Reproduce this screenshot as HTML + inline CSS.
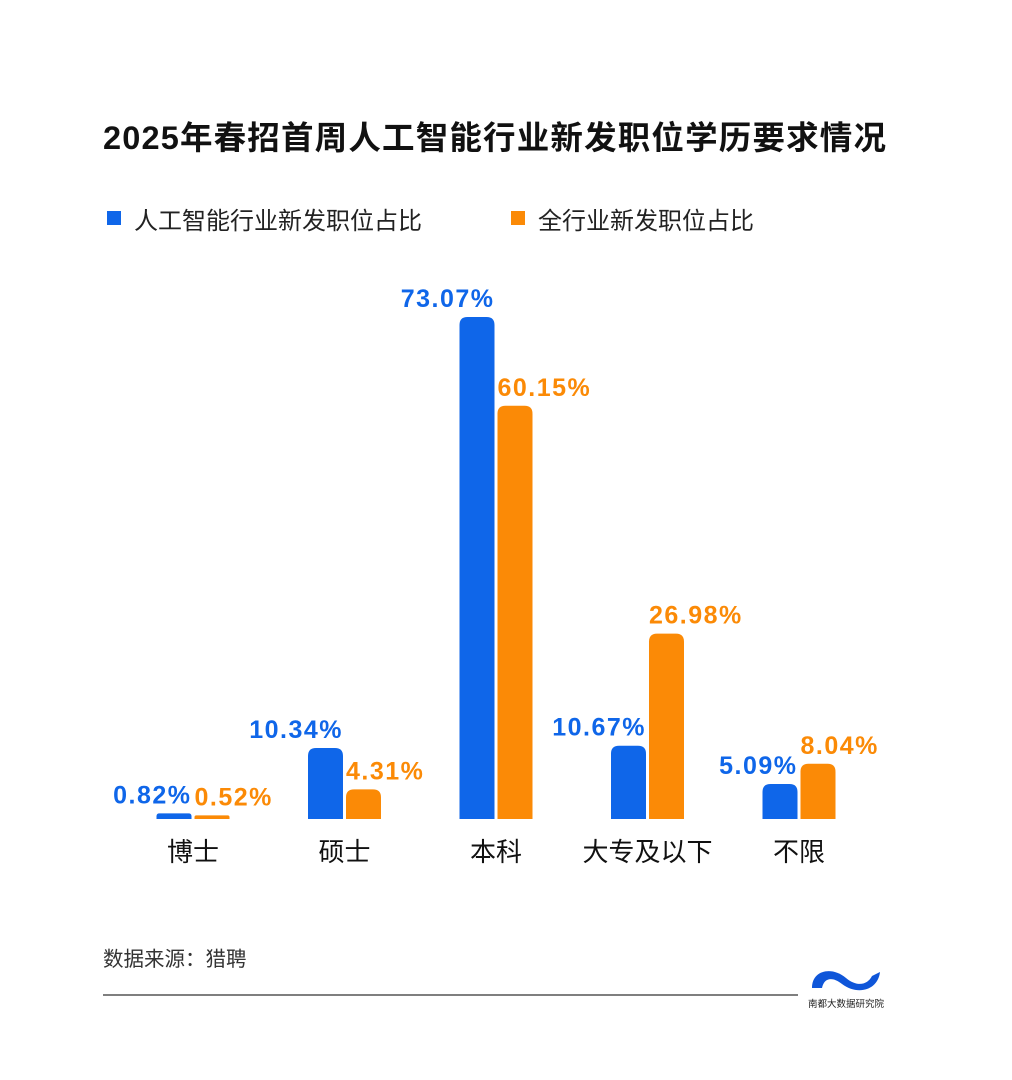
<!DOCTYPE html>
<html><head><meta charset="utf-8"><style>
body{margin:0;background:#fff;}
svg{display:block;font-family:"Liberation Sans","Noto Sans CJK SC",sans-serif;}
</style></head><body>
<svg id="chart" width="1012" height="1080">
<text x="103" y="149" font-size="32.5" font-weight="bold" fill="#111" textLength="783" lengthAdjust="spacing">2025年春招首周人工智能行业新发职位学历要求情况</text>
<g>
<rect x="107" y="211" width="14" height="14" fill="#0F66E9"/>
<text x="134" y="229" font-size="24" fill="#222">人工智能行业新发职位占比</text>
<rect x="511" y="211" width="14" height="14" fill="#FB8A06"/>
<text x="538" y="229" font-size="24" fill="#222">全行业新发职位占比</text>
</g>
<g id="bars"></g>
<text x="103" y="966" font-size="20.5" fill="#333">数据来源：猎聘</text>
<line x1="103" y1="995" x2="798" y2="995" stroke="#333" stroke-width="1.2"/>
<g>
<path d="M812 988 C812 970 832 966 846 978 C858 988 868 984 872 976 L880 972 C878 990 858 996 842 984 C832 976 824 978 822 988 Z" fill="#0F56D9"/>
<text x="846" y="1007" font-size="9.5" text-anchor="middle" fill="#222">南都大数据研究院</text>
</g>
</svg>
<script>
const categories=["博士","硕士","本科","大专及以下","不限"];
const aiValues=[0.82,10.34,73.07,10.67,5.09];
const allValues=[0.52,4.31,60.15,26.98,8.04];
const baseY=819, scale=6.87, x0=193, step=151.5, bw=35, gap=3;
const yOf=v=>baseY-v*scale;
const ns="http://www.w3.org/2000/svg";
const g=document.getElementById("bars");
function bar(x,v,color,name,isAi){
  const h=baseY-yOf(v), r=Math.min(8,h/2,bw/2);
  const p=document.createElementNS(ns,"path");
  const y=yOf(v);
  p.setAttribute("d",`M${x} ${baseY} V${y+r} Q${x} ${y} ${x+r} ${y} H${x+bw-r} Q${x+bw} ${y} ${x+bw} ${y+r} V${baseY} Z`);
  p.setAttribute("fill",color);
  
  
  g.appendChild(p);
  const t=document.createElementNS(ns,"text");
  t.setAttribute("x",isAi?x+bw:x);t.setAttribute("y",y-10);
  t.setAttribute("text-anchor",isAi?"end":"start");t.setAttribute("font-size","25");
  t.setAttribute("letter-spacing","1.5");
  t.setAttribute("font-weight","bold");t.setAttribute("fill",color);
  t.textContent=v.toFixed(2)+"%";
  
  
  g.appendChild(t);
}
categories.forEach((c,i)=>{
  const cx=x0+i*step;
  bar(cx-gap/2-bw,aiValues[i],"#0F66E9","bar-ai-"+i,true);
  bar(cx+gap/2,allValues[i],"#FB8A06","bar-all-"+i,false);
  const t=document.createElementNS(ns,"text");
  t.setAttribute("x",cx);t.setAttribute("y",861);
  t.setAttribute("text-anchor","middle");t.setAttribute("font-size","26");t.setAttribute("fill","#111");
  t.textContent=c;
  
  
  g.appendChild(t);
});
</script>
</body></html>
